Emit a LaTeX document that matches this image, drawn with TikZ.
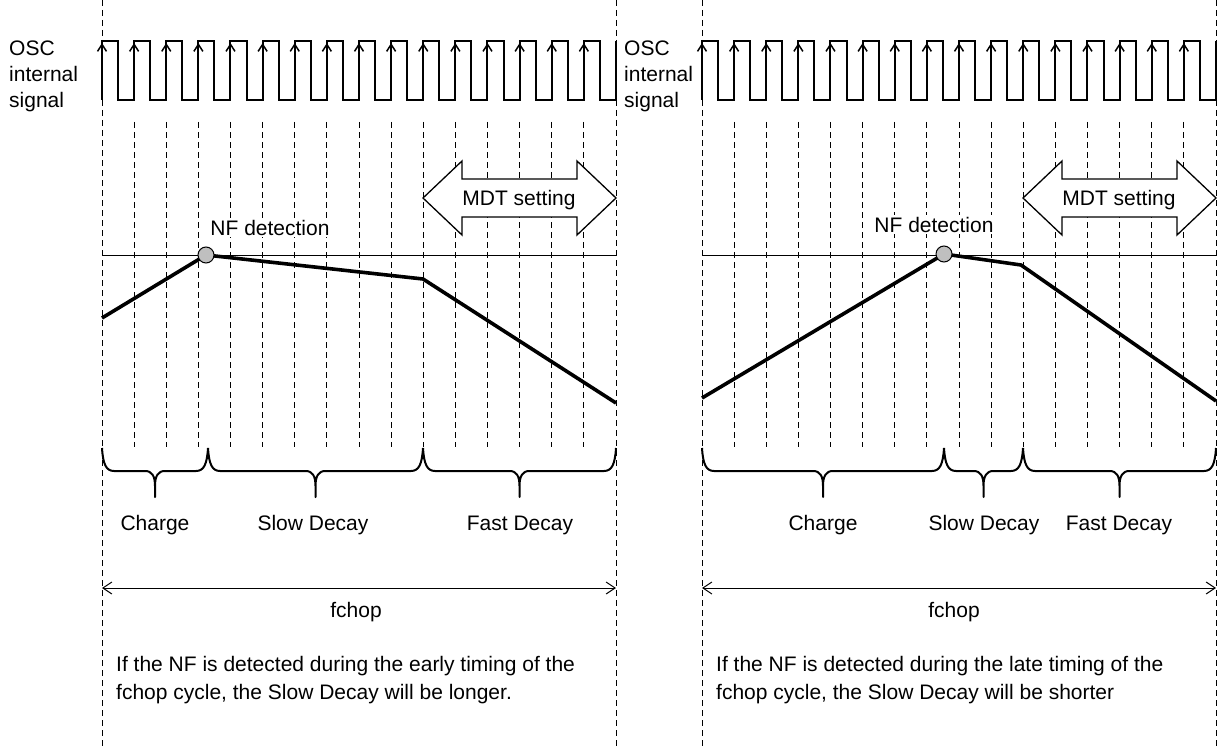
\documentclass[tikz,border=0pt]{standalone}
\usepackage{fontspec}
\setmainfont{Liberation Sans}
\usetikzlibrary{arrows.meta}
\newcommand\panelbase[1]{%
  \draw[frame] (#1,0) -- (#1,749);
  \draw[frame] ({#1+514},0) -- ({#1+514},749);
  \foreach \k in {1,...,15} \draw[grid] ({#1+32.125*\k},122) -- ({#1+32.125*\k},447);
  \draw[wave] (#1,100) foreach \k in {0,...,15}{ -- ++(0,-59) -- ++(16.06,0) -- ++(0,59) -- ++(16.06,0)} -- ++(0,-59);
  \foreach \k in {0,...,15} \draw[edge] ({#1+32.125*\k},99) -- ({#1+32.125*\k},43);
  \draw[hline] (#1,255) -- ({#1+514},255);
}
\newcommand\brc[2]{%
  \draw[bracepath] (#1,448) .. controls ({#1+1},464) and ({#1+4},471) .. ({#1+12},471)
    -- ({(#1+#2)/2-10},471) .. controls ({(#1+#2)/2-3},471) and ({(#1+#2)/2},476) .. ({(#1+#2)/2},486)
    -- ({(#1+#2)/2},497) -- ({(#1+#2)/2},486)
    .. controls ({(#1+#2)/2},476) and ({(#1+#2)/2+3},471) .. ({(#1+#2)/2+10},471)
    -- ({#2-12},471) .. controls ({#2-4},471) and ({#2-1},464) .. (#2,448);}
\newcommand\mdtarrow[1]{%
  \draw[mdt] (#1,198) -- ({#1+39},161) -- ({#1+39},179) -- ({#1+154},179) -- ({#1+154},161)
    -- ({#1+193},198) -- ({#1+154},235) -- ({#1+154},217) -- ({#1+39},217) -- ({#1+39},235) -- cycle;}
\begin{document}
\begin{tikzpicture}[x=1pt,y=-1pt,
  txt/.style={font=\fontsize{21}{26}\selectfont, inner sep=0pt},
  frame/.style={dash pattern=on 6pt off 4pt, line width=0.9pt},
  grid/.style={dash pattern=on 6pt off 4pt, line width=0.9pt},
  wave/.style={line width=2pt, line join=miter},
  edge/.style={line width=1.5pt, -{Straight Barb[length=7pt,width=9pt]}},
  hline/.style={line width=0.8pt},
  cur/.style={line width=3.6pt, line join=miter},
  dot/.style={circle, minimum size=16pt, inner sep=0pt, fill=gray!50, draw, line width=1pt},
  mdt/.style={draw, fill=white, line width=1.3pt, line join=miter},
  bracepath/.style={line width=2pt, line join=round},
  farrow/.style={line width=1pt, {Straight Barb[length=9pt,width=12pt]}-{Straight Barb[length=9pt,width=12pt]}}]
\useasboundingbox (0,0) rectangle (1217,749);
% ---------- left panel ----------
\panelbase{102}
\node[txt, anchor=base west] (osc1) at (9,56) {OSC};
\node[txt, anchor=base west] (int1) at (9,82) {internal};
\node[txt, anchor=base west] (sig1) at (9,108) {signal};
\mdtarrow{423}
\node[txt, anchor=base] (mdt1) at (519,205) {MDT setting};
\node[txt, anchor=base, fill=white, inner sep=1.5pt] (nft1) at (270,235) {NF detection};
\coordinate (s1) at (102,318);
\coordinate (c1) at (206,255);
\coordinate (b1) at (423,279);
\coordinate (e1) at (616,403);
\draw[cur] (s1) -- (c1) -- (b1) -- (e1);
\node[dot] (nf1) at (c1) {};
\brc{102}{208}
\brc{208}{423}
\brc{423}{616}
\node[txt, anchor=base] (ch1) at (155,530) {Charge};
\node[txt, anchor=base] (sd1) at (313,530) {Slow Decay};
\node[txt, anchor=base] (fd1) at (520,530) {Fast Decay};
\coordinate (fa1) at (102,588);
\coordinate (fb1) at (616,588);
\draw[farrow] (fa1) -- (fb1);
\node[txt, anchor=base] (fc1) at (356,617) {fchop};
\node[txt, anchor=base west] (t1a) at (116,671) {If the NF is detected during the early timing of the};
\node[txt, anchor=base west] (t1b) at (116,699) {fchop cycle, the Slow Decay will be longer.};
% ---------- right panel ----------
\panelbase{702}
\node[txt, anchor=base west] (osc2) at (624,56) {OSC};
\node[txt, anchor=base west] (int2) at (624,82) {internal};
\node[txt, anchor=base west] (sig2) at (624,108) {signal};
\mdtarrow{1023}
\node[txt, anchor=base] (mdt2) at (1119,205) {MDT setting};
\node[txt, anchor=base, fill=white, inner sep=1.5pt] (nft2) at (934,232) {NF detection};
\coordinate (s2) at (702,398);
\coordinate (c2) at (944,254);
\coordinate (b2) at (1021,265);
\coordinate (e2) at (1216,401);
\draw[cur] (s2) -- (c2) -- (b2) -- (e2);
\node[dot] (nf2) at (c2) {};
\brc{702}{944}
\brc{944}{1023}
\brc{1023}{1216}
\node[txt, anchor=base] (ch2) at (823,530) {Charge};
\node[txt, anchor=base] (sd2) at (984,530) {Slow Decay};
\node[txt, anchor=base] (fd2) at (1119,530) {Fast Decay};
\coordinate (fa2) at (702,588);
\coordinate (fb2) at (1216,588);
\draw[farrow] (fa2) -- (fb2);
\node[txt, anchor=base] (fc2) at (954,617) {fchop};
\node[txt, anchor=base west] (t2a) at (716,671) {If the NF is detected during the late timing of the};
\node[txt, anchor=base west] (t2b) at (716,699) {fchop cycle, the Slow Decay will be shorter};
\end{tikzpicture}
\end{document}
